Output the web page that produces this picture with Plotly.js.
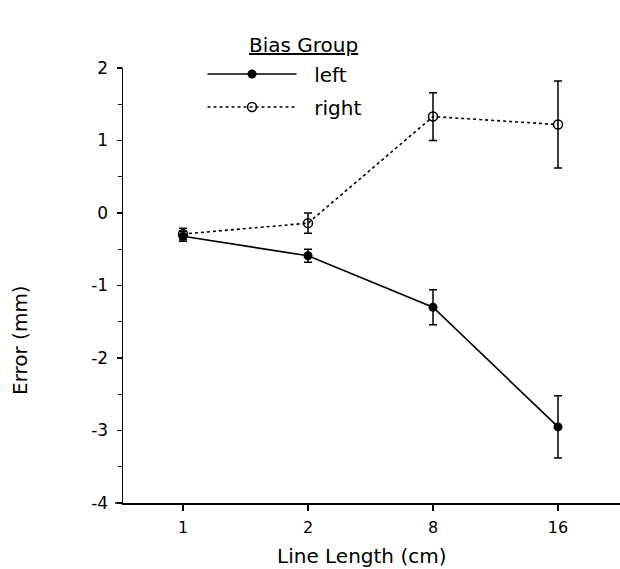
<!DOCTYPE html>
<html>
<head>
<meta charset="utf-8">
<script src="https://cdn.plot.ly/plotly-3.0.1.min.js"></script>
<style>html,body{margin:0;padding:0;background:#fff;}#chart{width:620px;height:569px;}</style>
</head>
<body>
<div id="chart"></div>
<script>
const lengths = ["1", "2", "8", "16"];
const leftMean = [-0.32, -0.59, -1.30, -2.95];
const leftErr = [0.07, 0.09, 0.24, 0.43];
const rightMean = [-0.29, -0.14, 1.33, 1.22];
const rightErr = [0.08, 0.14, 0.33, 0.60];
const yTicks = [-4, -3, -2, -1, 0, 1, 2];
const yTickText = ["-4", "-3", "-2", "-1", "0", "1", "2"];

const font = "DejaVu Sans, sans-serif";
const gap = "\u00a0\u00a0";

const traces = [
  {
    x: lengths, y: leftMean, name: gap + "left", type: "scatter", mode: "lines+markers",
    legend: "legend",
    line: {color: "#000", width: 1.6},
    marker: {symbol: "circle", size: 9, color: "#000"},
    error_y: {type: "data", array: leftErr, visible: true, color: "#000", thickness: 1.5, width: 4}
  },
  {
    x: lengths, y: rightMean, name: gap + "right", type: "scatter", mode: "lines+markers",
    legend: "legend2",
    line: {color: "#000", width: 1.6, dash: "dot"},
    marker: {symbol: "circle-open", size: 9, color: "#000", line: {width: 1.5}},
    error_y: {type: "data", array: rightErr, visible: true, color: "#000", thickness: 1.5, width: 4}
  }
];

const legendBase = {
  x: 0.16, xanchor: "left", yanchor: "middle",
  itemwidth: 89, font: {size: 20, family: font}, bgcolor: "rgba(0,0,0,0)"
};

const layout = {
  width: 620, height: 569,
  margin: {l: 123, r: 0, t: 68, b: 66},
  paper_bgcolor: "#fff", plot_bgcolor: "#fff",
  font: {family: font, color: "#000"},
  showlegend: true,
  legend: Object.assign({}, legendBase, {y: (503 - 74) / 435}),
  legend2: Object.assign({}, legendBase, {y: (503 - 107) / 435}),
  xaxis: {
    type: "category", range: [-0.48, 3.496],
    showline: true, linecolor: "#000", linewidth: 1.5,
    ticks: "outside", ticklen: 6, tickwidth: 1.3, tickcolor: "#000",
    ticklabelstandoff: 3,
    showgrid: false, zeroline: false,
    tickfont: {size: 16, family: font}
  },
  yaxis: {
    range: [-4, 2], tickvals: yTicks, ticktext: yTickText,
    showline: true, linecolor: "#000", linewidth: 1.5,
    ticks: "outside", ticklen: 5, tickwidth: 1.3, tickcolor: "#000",
    ticklabelstandoff: 5,
    minor: {dtick: 0.5, ticks: "outside", ticklen: 4, tickwidth: 1.3, tickcolor: "#000", showgrid: false},
    showgrid: false, zeroline: false,
    tickfont: {size: 17, family: font}
  },
  shapes: [
    {type: "line", xref: "paper", yref: "paper", x0: -8/497, x1: 0, y0: 0, y1: 0, line: {color: "#000", width: 1.5}}
  ],
  annotations: [
    {text: "<u>Bias Group</u>", xref: "paper", yref: "paper", x: (303-123)/497, y: 1 + (68-45)/435, xanchor: "center", yanchor: "middle", showarrow: false, font: {size: 20, family: font}},
    {text: "Line Length (cm)", xref: "paper", yref: "paper", x: (361-123)/497, y: -(556-503)/435, xanchor: "center", yanchor: "middle", showarrow: false, font: {size: 20, family: font}},
    {text: "Error (mm)", xref: "paper", yref: "paper", x: -(123-20)/497, y: (503-340)/435, xanchor: "center", yanchor: "middle", textangle: -90, showarrow: false, font: {size: 20, family: font}}
  ]
};

Plotly.newPlot("chart", traces, layout, {displayModeBar: false, staticPlot: true});
</script>
</body>
</html>
